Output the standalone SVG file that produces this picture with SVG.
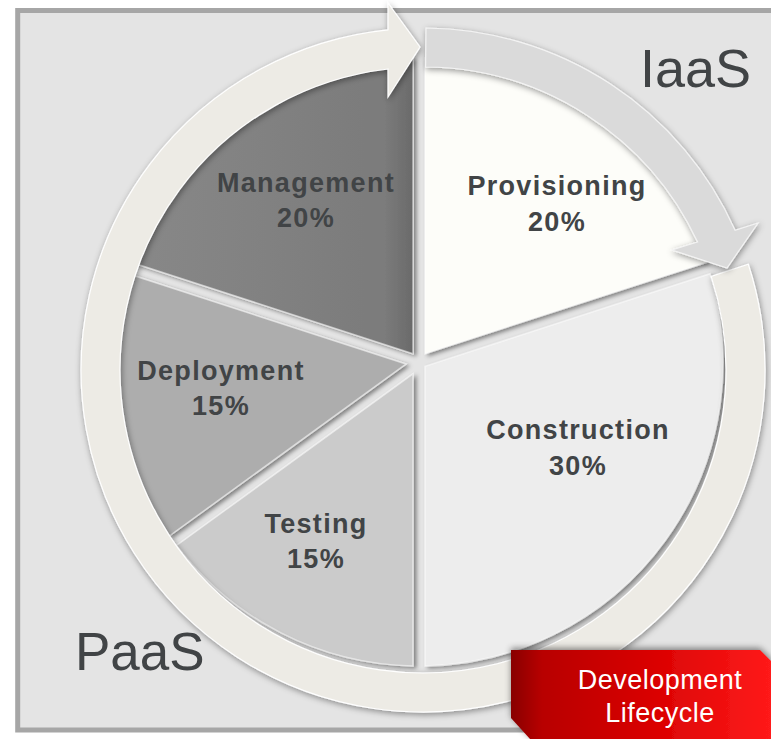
<svg xmlns="http://www.w3.org/2000/svg" width="771" height="739" viewBox="0 0 771 739">
<style>
.lbl{font-family:"Liberation Sans",Arial,sans-serif;font-weight:bold;font-size:27px;fill:#414446;text-anchor:middle;letter-spacing:1.3px}
.big{font-family:"Liberation Sans",Arial,sans-serif;fill:#414446}
.wt{font-family:"Liberation Sans",Arial,sans-serif;font-size:27px;fill:#ffffff;text-anchor:middle;letter-spacing:0.5px}
.slice{stroke:#ffffff;stroke-opacity:0.55;stroke-width:1.5;filter:url(#sh)}
</style>
<defs>
<filter id="sh" x="-10%" y="-10%" width="120%" height="120%">
<feDropShadow dx="3" dy="2" stdDeviation="2.2" flood-color="#000" flood-opacity="0.45"/>
</filter>
<filter id="rsh" x="-10%" y="-10%" width="120%" height="120%">
<feDropShadow dx="1" dy="2" stdDeviation="3" flood-color="#000" flood-opacity="0.4"/>
</filter>
<filter id="bsh" x="-10%" y="-20%" width="120%" height="140%">
<feDropShadow dx="0" dy="-2" stdDeviation="3" flood-color="#000" flood-opacity="0.45"/>
</filter>
<linearGradient id="mg" x1="0" y1="0" x2="1" y2="0">
<stop offset="0" stop-color="#888888"/><stop offset="0.9" stop-color="#7b7b7b"/><stop offset="1" stop-color="#6a6a6a"/>
</linearGradient>
<linearGradient id="red" gradientUnits="userSpaceOnUse" x1="511" y1="0" x2="771" y2="0">
<stop offset="0" stop-color="#880000"/><stop offset="0.12" stop-color="#b80000"/><stop offset="0.5" stop-color="#d60000"/><stop offset="1" stop-color="#ff1a1a"/>
</linearGradient>
</defs>

<rect id="panel" x="17.7" y="10.5" width="770" height="719.5" fill="#e4e4e4" stroke="#a6a6a6" stroke-width="5"/>

<g id="provisioning">
<path class="slice" d="M425,353.7 L425,58 A304 304 0 0 1 706.3,262.4 Z" fill="#fdfdf9"/>
<text class="lbl" x="557" y="195">Provisioning</text>
<text class="lbl" x="557" y="231">20%</text>
</g>
<g id="construction">
<path class="slice" d="M425,366.4 L710,273.8 A304 304 0 0 1 425,666 Z" fill="#ededed"/>
<text class="lbl" x="578" y="439">Construction</text>
<text class="lbl" x="578" y="475">30%</text>
</g>
<g id="testing">
<path class="slice" d="M413,373.8 L413,666 A304 304 0 0 1 176.6,545.5 Z" fill="#cbcbcb"/>
<text class="lbl" x="316" y="533">Testing</text>
<text class="lbl" x="316" y="568">15%</text>
</g>
<g id="deployment">
<path class="slice" d="M405.9,364.1 L169.6,535.8 A304 304 0 0 1 128,273.8 Z" fill="#adadad"/>
<text class="lbl" x="221" y="380">Deployment</text>
<text class="lbl" x="221" y="415">15%</text>
</g>
<g id="management">
<path class="slice" d="M413,353.7 L131.8,262.4 A304 304 0 0 1 413,58 Z" fill="url(#mg)"/>
<text class="lbl" x="306" y="192">Management</text>
<text class="lbl" x="306" y="227">20%</text>
</g>

<g id="connectors">
<path id="paas-arrow" d="M748.3,264.3 A342 342 0 1 1 388,29.8 L388,3 L420,47 L388,97 L388,69 A303 303 0 1 0 711.2,276.4 Z" fill="#edebe5" stroke="#ffffff" stroke-width="1.2" filter="url(#rsh)"/>
<path id="iaas-arrow" d="M426,28 A342 342 0 0 1 735.1,230.2 L758,223 L727,268 L672,250 L697.6,242 A303 303 0 0 0 425.6,67 Z" fill="#dadada" stroke="#f4f4f4" stroke-width="1.2" filter="url(#rsh)"/>
</g>

<g id="iaas">
<text class="big" x="640" y="87" font-size="54">IaaS</text>
</g>
<g id="paas">
<text class="big" x="75" y="670" font-size="53">PaaS</text>
</g>

<g id="dev-lifecycle">
<path d="M511,650 L760,650 L771,661 L771,739 L530,739 L511,718 Z" fill="url(#red)" filter="url(#bsh)"/>
<text class="wt" x="660" y="689">Development</text>
<text class="wt" x="660" y="722">Lifecycle</text>
</g>
</svg>
